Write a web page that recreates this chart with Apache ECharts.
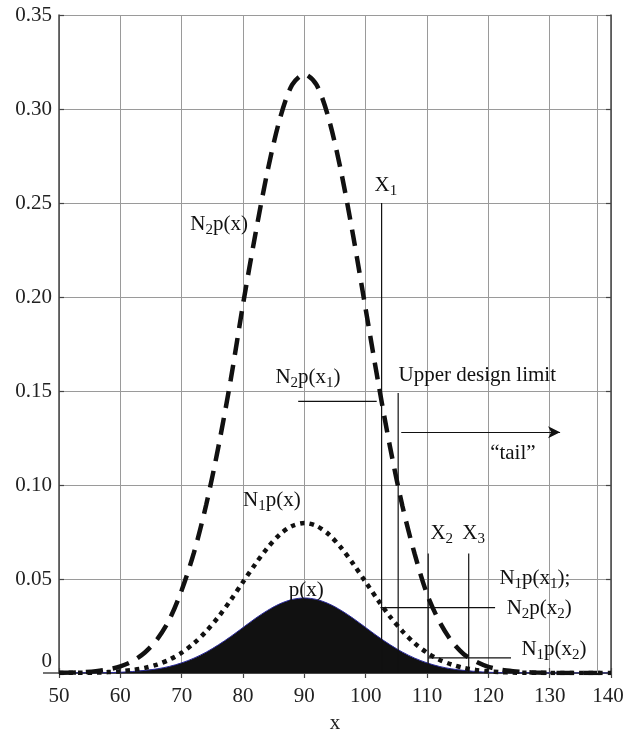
<!DOCTYPE html>
<html><head><meta charset="utf-8">
<script src="https://cdn.jsdelivr.net/npm/echarts@6/dist/echarts.min.js"></script>
<style>html,body{margin:0;padding:0;background:#fff}#c{width:624px;height:734px}</style>
</head><body><div id="c"></div>
<script>
// ---- data ----
const xValues = [50,52,54,56,58,60,62,64,66,68,70,72,74,76,78,80,82,84,86,88,90,92,94,96,98,100,102,104,106,108,110,112,114,116,118,120,122,124,126,128,130,132,134,136,138,140];
const pValues = [0,0,0.0001,0.0001,0.0002,0.0004,0.0008,0.0014,0.0022,0.0035,0.0054,0.0079,0.0111,0.0150,0.0194,0.0242,0.0290,0.0333,0.0368,0.0391,0.0399,0.0391,0.0368,0.0333,0.0290,0.0242,0.0194,0.0150,0.0111,0.0079,0.0054,0.0035,0.0022,0.0014,0.0008,0.0004,0.0002,0.0001,0.0001,0,0,0,0,0,0,0];
const n1Values = [0,0.0001,0.0001,0.0002,0.0005,0.0009,0.0016,0.0027,0.0045,0.0071,0.0108,0.0158,0.0222,0.0299,0.0388,0.0484,0.0579,0.0666,0.0737,0.0782,0.0798,0.0782,0.0737,0.0666,0.0579,0.0484,0.0388,0.0299,0.0222,0.0158,0.0108,0.0071,0.0045,0.0027,0.0016,0.0009,0.0005,0.0002,0.0001,0.0001,0,0,0,0,0,0];
const n2Values = [0.0001,0.0002,0.0005,0.0010,0.0019,0.0035,0.0063,0.0109,0.0179,0.0284,0.0440,0.0640,0.0895,0.1205,0.1560,0.1960,0.2330,0.2670,0.2946,0.3128,0.3185,0.3128,0.2946,0.2666,0.2318,0.1936,0.1554,0.1198,0.0887,0.0632,0.0420,0.0275,0.0170,0.0100,0.0060,0.0033,0.0018,0.0010,0.0005,0.0002,0.0001,0,0,0,0,0];
const xAxisRange = [50, 140, 10];
const yAxisRange = [0, 0.35, 0.05];
const extraGridX = 137.7;
// vertical marker lines: [x, yFrom, yTo]
const vLines = [[102.6,0,0.25],[105.3,0,0.149],[110.2,0,0.0635],[116.8,0,0.0635]];
// horizontal lines: [y, xFrom, xTo]
const hLines = [[0.1445,89.0,101.8],[0.0348,102.4,121.1],[0.008,110.2,123.7]];
const tailArrow = [0.128,105.8,131.7];
// text annotations: [text, x, y]
const annotationText = ['N{s|2}p(x)','X{s|1}','N{s|2}p(x{s|1})','Upper design limit','\u201Ctail\u201D','N{s|1}p(x)','X{s|2}','X{s|3}','p(x)','N{s|1}p(x{s|1});','N{s|2}p(x{s|2})','N{s|1}p(x{s|2})'];
const annotationX = [76.1,103.3,90.6,118.2,124.0,84.7,112.4,117.6,90.3,127.6,128.3,130.7];
const annotationY = [0.2386,0.2594,0.1573,0.1584,0.1169,0.0919,0.0743,0.0743,0.044,0.0504,0.0344,0.0126];

// ---- chart ----
const FONT = 'Liberation Serif';
const FS = 21;
const toPairs = (ys) => xValues.map((x, i) => [x, ys[i]]);
const chart = echarts.init(document.getElementById('c'), null, {renderer: 'canvas'});

const series = [
  {type:'line', name:'p', data: toPairs(pValues), showSymbol:false, smooth:0.3, z:3,
   lineStyle:{color:'#2a2a9c', width:1}, areaStyle:{color:'#111', opacity:1}},
  {type:'line', name:'n1', data: toPairs(n1Values), showSymbol:false, smooth:0.3, z:4,
   lineStyle:{color:'#111', width:4.5, type:[4.5,5], cap:'butt'}},
  {type:'line', name:'n2', data: toPairs(n2Values), showSymbol:false, smooth:0.3, z:4,
   lineStyle:{color:'#111', width:4.5, type:[17,10], cap:'butt'}},
  {type:'line', name:'extraGrid', data: [], z:1, silent:true,
   markLine:{silent:true, symbol:'none', label:{show:false}, animation:false,
     lineStyle:{color:'#9a9a9a', type:'solid', width:1}, data:[{xAxis: extraGridX}]}}
];
vLines.forEach(v => series.push({type:'line', data:[[v[0],v[1]],[v[0],v[2]]], showSymbol:false, silent:true, z:6,
  lineStyle:{color:'#111', width:1.2}}));
hLines.forEach(h => series.push({type:'line', data:[[h[1],h[0]],[h[2],h[0]]], showSymbol:false, silent:true, z:6,
  lineStyle:{color:'#111', width:1.2}}));
series.push({type:'line', data:[], z:6, silent:true,
  markLine:{silent:true, symbol:['none','arrow'], symbolSize:[9,12], label:{show:false}, animation:false,
    lineStyle:{color:'#111', width:1.2, type:'solid'},
    data:[[{coord:[tailArrow[1],tailArrow[0]]},{coord:[tailArrow[2],tailArrow[0]]}]]}});
series.push({type:'scatter', silent:true, z:7, symbolSize:1, itemStyle:{color:'rgba(0,0,0,0)', opacity:1},
  data: annotationText.map((t, i) => ({value:[annotationX[i], annotationY[i]], name:t})),
  label:{show:true, position:'inside', formatter: p => p.name, color:'#111', opacity:1,
    textBorderWidth:0, fontFamily:FONT, fontSize:FS, lineHeight:21,
    rich:{s:{fontFamily:FONT, fontSize:15, lineHeight:15, padding:[12,0,0,0], color:'#111', textBorderWidth:0}}}});

const axisCommon = {
  axisLine:{show:true, lineStyle:{color:'#444', width:1.5}},
  axisTick:{show:true, inside:true, length:5, lineStyle:{color:'#444', width:1.2}},
};
chart.setOption({
  animation:false,
  backgroundColor:'#fff',
  grid:{left:59, right:13, top:15, bottom:61, containLabel:false, outerBoundsMode:'none'},
  xAxis:[
    Object.assign({type:'value', min:xAxisRange[0], max:xAxisRange[1], interval:xAxisRange[2],
      name:'x', nameLocation:'middle', nameGap:40,
      nameTextStyle:{fontFamily:FONT, fontSize:FS, color:'#222'},
      axisLabel:{fontFamily:FONT, fontSize:FS, color:'#222', margin:13,
        formatter: v => v === xAxisRange[1] ? '{e|' + v + '}' : String(v),
        rich:{e:{fontFamily:FONT, fontSize:FS, color:'#222', padding:[0,6,0,0]}}},
      splitLine:{show:true, lineStyle:{color:'#9a9a9a', width:1}}}, axisCommon),
    Object.assign({type:'value', position:'top', min:xAxisRange[0], max:xAxisRange[1], interval:xAxisRange[2],
      axisLabel:{show:false}, splitLine:{show:false}}, axisCommon)
  ],
  yAxis:[
    Object.assign({type:'value', min:yAxisRange[0], max:yAxisRange[1], interval:yAxisRange[2],
      axisLabel:{fontFamily:FONT, fontSize:FS, color:'#222', margin:7,
        formatter: v => v === 0 ? '{z|0}' : v.toFixed(2),
        rich:{z:{fontFamily:FONT, fontSize:FS, color:'#222', padding:[0,0,24,0]}}},
      splitLine:{show:true, lineStyle:{color:'#9a9a9a', width:1}}}, axisCommon),
    Object.assign({type:'value', position:'right', min:yAxisRange[0], max:yAxisRange[1], interval:yAxisRange[2],
      axisLabel:{show:false}, splitLine:{show:false}}, axisCommon)
  ],
  series: series
});
// extension of the zero line to the left of the plot
const origin = chart.convertToPixel({gridIndex:0}, [xAxisRange[0], 0]);
chart.setOption({graphic:[{type:'line', silent:true, z:10,
  shape:{x1:origin[0]-16, y1:origin[1], x2:origin[0], y2:origin[1]},
  style:{stroke:'#444', lineWidth:1.5}}]});
</script></body></html>
